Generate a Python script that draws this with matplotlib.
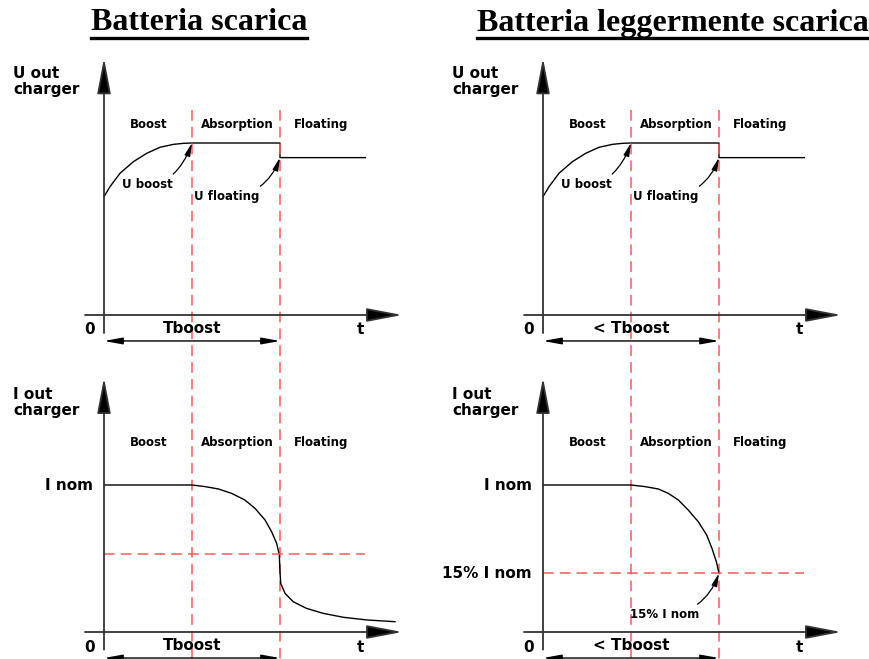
import matplotlib
matplotlib.use('Agg')
import matplotlib.pyplot as plt

W, H = 869, 659

# phases (time units: end of boost = 1, end of absorption = 2)
phases = ['Boost', 'Absorption', 'Floating']
phase_mid = [0.51, 1.51, 2.47]
t_bounds = [1.0, 2.0]

# output voltage (U boost = 1)
u_t = [0, 0.068, 0.182, 0.333, 0.485, 0.636, 0.788, 0.90, 1.0, 2.0, 2.0, 2.97]
u_v = [0.688, 0.746, 0.824, 0.891, 0.940, 0.975, 0.992, 0.998, 1.0, 1.0, 0.915, 0.915]

# output current (I nom = 1), deeply discharged battery
il_t = [0, 1.0, 1.148, 1.30, 1.451, 1.60, 1.716, 1.83, 1.905, 1.962, 1.992, 2.0,
        2.008, 2.057, 2.15, 2.30, 2.49, 2.72, 2.985, 3.307]
il_v = [1, 1, 0.989, 0.973, 0.943, 0.898, 0.841, 0.762, 0.682, 0.603, 0.524, 0.41,
        0.331, 0.263, 0.206, 0.161, 0.127, 0.100, 0.082, 0.070]
il_thr = 0.53

# output current, slightly discharged battery
ir_t = [0, 1.0, 1.159, 1.31, 1.424, 1.538, 1.65, 1.765, 1.86, 1.92, 1.97, 2.0]
ir_v = [1, 1, 0.989, 0.973, 0.943, 0.898, 0.830, 0.750, 0.660, 0.569, 0.478, 0.40]
ir_thr = 0.40

titles = ['Batteria scarica', 'Batteria leggermente scarica']
title_x = [199, 673]
tboost_lbl = ['Tboost', '< Tboost']

SANS = 'DejaVu Sans'
RED = '#ff5a5a'
AX = '#333333'

fig = plt.figure(figsize=(W / 100, H / 100), dpi=100)


def panel(x0, y0, sy, sx=88):
    ax = fig.add_axes([0, 0, 1, 1])
    ax.set_facecolor('none')
    ax.set_xlim(-x0 / sx, (W - x0) / sx)
    ax.set_ylim((y0 - H) / sy, y0 / sy)
    ax.axis('off')
    return ax


def axes_arrows(ax, ybot, ytop, xleft, xright):
    ap = dict(arrowstyle='-|>,head_length=2.2,head_width=0.42', color=AX, lw=1.3,
              shrinkA=0, shrinkB=0, fc='black', ec=AX)
    ax.annotate('', xy=(0, ytop), xytext=(0, ybot), arrowprops=ap, annotation_clip=False)
    ax.annotate('', xy=(xright, 0), xytext=(xleft, 0), arrowprops=ap, annotation_clip=False)


def labels(ax, v_phase, ylab, v_ylab, v_bot, v_span, tb):
    for name, m in zip(phases, phase_mid):
        ax.text(m, v_phase, name, ha='center', va='center', fontsize=8.5,
                fontweight='bold', family=SANS)
    ax.text(-1.03, v_ylab, ylab, ha='left', va='top', fontsize=11,
            fontweight='bold', family=SANS, linespacing=1.15)
    ax.text(-0.16, v_bot, '0', ha='center', va='center', fontsize=11,
            fontweight='bold', family=SANS)
    ax.text(2.91, v_bot, 't', ha='center', va='center', fontsize=11,
            fontweight='bold', family=SANS)
    ax.text(1.0, v_bot + 0.01, tb, ha='center', va='center', fontsize=11,
            fontweight='bold', family=SANS)
    ax.annotate('', xy=(2, v_span), xytext=(0, v_span),
                arrowprops=dict(arrowstyle='<|-|>,head_length=1.1,head_width=0.2',
                                color='black', lw=1, shrinkA=0, shrinkB=0),
                annotation_clip=False)


def note(ax, txt, xy_text, xy_tip):
    ax.annotate(txt, xy=xy_tip, xytext=xy_text, ha='right', va='center',
                fontsize=8.5, fontweight='bold', family=SANS,
                arrowprops=dict(arrowstyle='-|>,head_length=0.9,head_width=0.2',
                                color='black', lw=0.9, shrinkA=1, shrinkB=0,
                                connectionstyle='angle3,angleA=0,angleB=70'))


for k, x0 in enumerate([104, 543]):
    # voltage panel
    top = panel(x0, 315, 172)
    axes_arrows(top, -0.105, 1.494, -0.216, 3.39)
    top.plot(u_t, u_v, color='black', lw=1)
    for tb in t_bounds:
        top.plot([tb, tb], [1.19, (315 - H) / 172], color=RED, lw=1.1,
                 dashes=(7, 4), clip_on=False)
    labels(top, 1.105, 'U out\ncharger', 1.45, -0.087, -0.151, tboost_lbl[k])
    note(top, 'U boost', (0.78, 0.76), (1.0, 1.0))
    note(top, 'U floating', (1.77, 0.69), (2.0, 0.915))

    # current panel
    bot = panel(x0, 632, 147)
    axes_arrows(bot, -0.12, 1.73, -0.216, 3.39)
    labels(bot, 1.29, 'I out\ncharger', 1.67, -0.105, -0.177, tboost_lbl[k])
    bot.text(-0.125, 1.0, 'I nom', ha='right', va='center', fontsize=11,
             fontweight='bold', family=SANS)
    if k == 0:
        bot.plot(il_t, il_v, color='black', lw=1)
        thr = il_thr
    else:
        bot.plot(ir_t, ir_v, color='black', lw=1)
        thr = ir_thr
        bot.text(-0.125, thr, '15% I nom', ha='right', va='center', fontsize=11,
                 fontweight='bold', family=SANS)
        note(bot, '15% I nom', (1.77, 0.12), (2.0, thr))
    bot.plot([0, 2.97], [thr, thr], color=RED, lw=1.1, dashes=(7, 4))

# titles with underline
fig.canvas.draw()
r = fig.canvas.get_renderer()
for s, xc in zip(titles, title_x):
    t = fig.text(xc / W, 1 - 23 / H, s, ha='center', va='center', fontsize=23,
                 fontweight='bold', family='Liberation Serif')
    bb = t.get_window_extent(renderer=r)
    yl = 1 - 38 / H
    fig.add_artist(plt.Line2D([bb.x0 / W, bb.x1 / W], [yl, yl], color='black', lw=2.4,
                              transform=fig.transFigure))

fig.savefig('out.png', dpi=100)
